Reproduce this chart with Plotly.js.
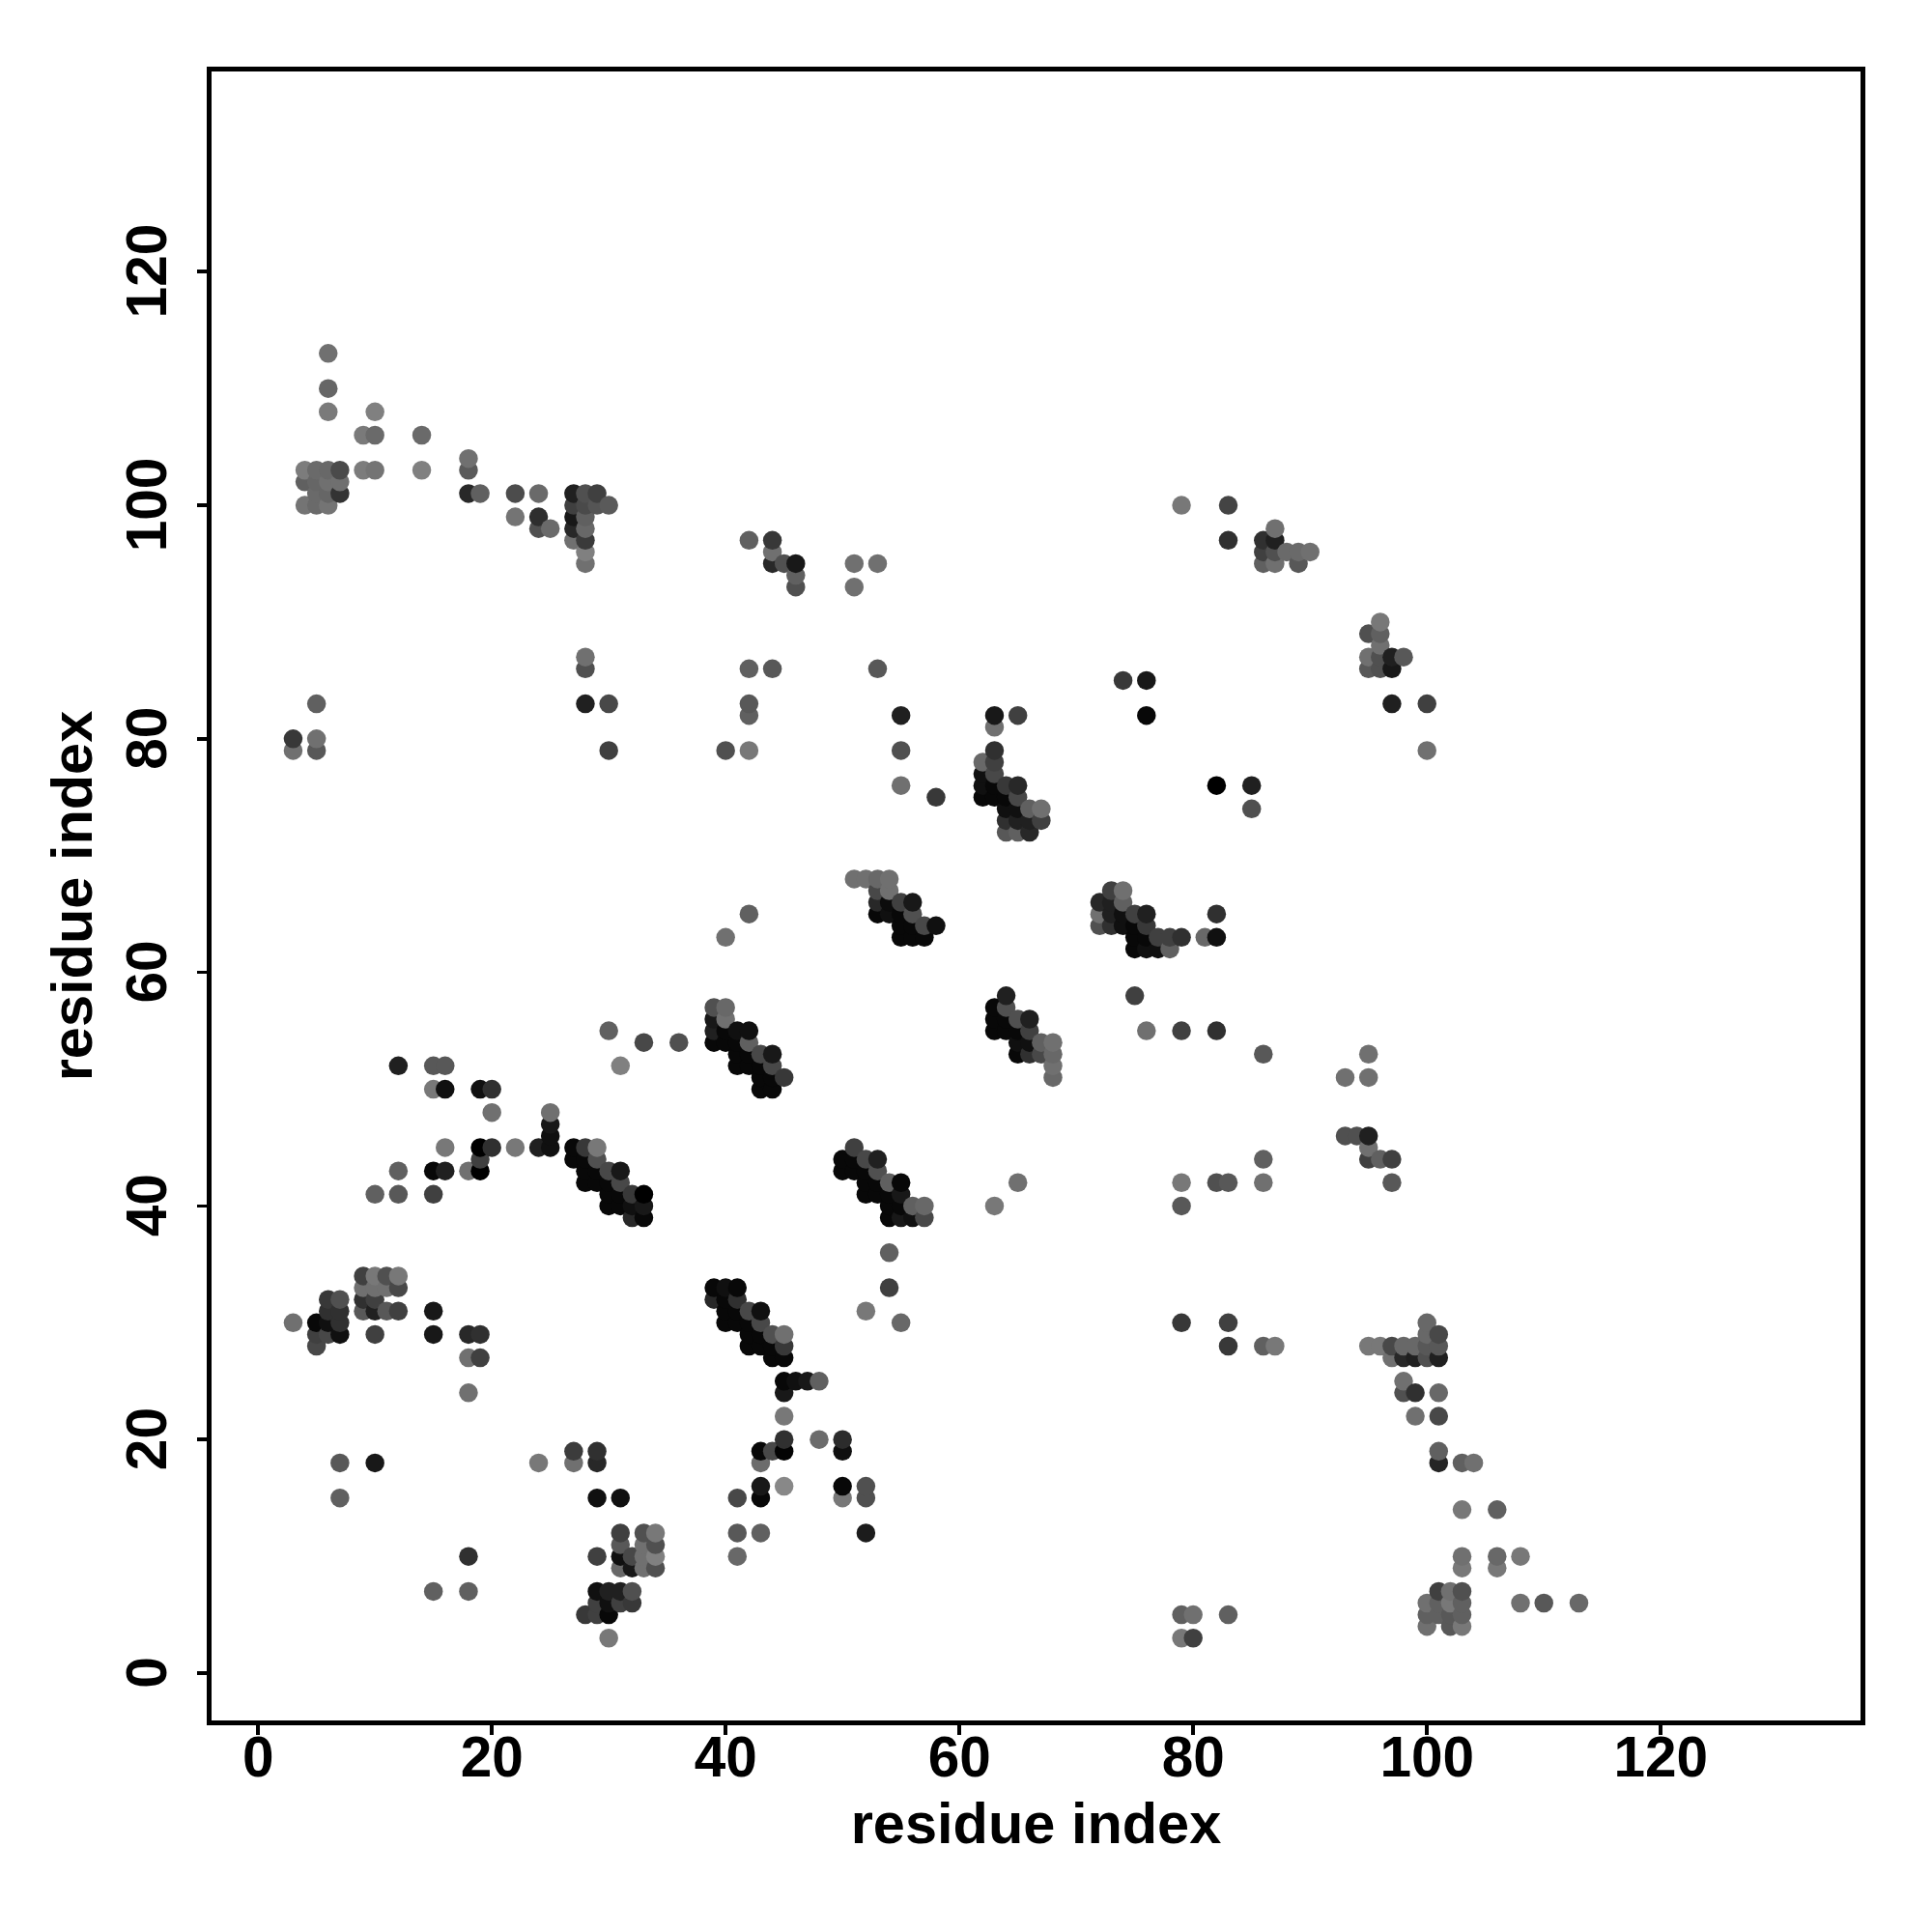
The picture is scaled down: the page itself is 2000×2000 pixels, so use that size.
<!DOCTYPE html>
<html><head><meta charset="utf-8">
<script src="https://cdn.plot.ly/plotly-3.0.1.min.js"></script>
<style>html,body{margin:0;padding:0;background:#fff}</style></head>
<body><div id="chart" style="width:2000px;height:2000px"></div>
<script>
// each entry: [residue x, residue y, grey level 0-255]
const topLeft = [[6,113,112],[6,110,102],[6,108,122],[10,108,128],[9,106,122],[10,106,106],[14,106,106],
[4,103,124],[5,103,106],[6,103,104],[7,103,74],[9,103,124],[10,103,116],[14,103,128],[4,102,96],[5,102,102],[6,102,112],[7,102,112],
[5,101,106],[6,101,102],[7,101,51],[4,100,116],[5,100,106],[6,100,116],[18,104,112],[18,103,90],[18,101,40],[19,101,96],
[22,101,76],[24,101,106],[22,99,116],[24,99,46],[24,98,80],[25,98,106],
[27,101,32],[27,100,64],[27,99,24],[27,98,40],[27,97,112],[28,101,80],[28,100,74],[28,99,96],[28,98,104],[28,97,58],[28,96,128],[28,95,112],
[29,101,64],[29,100,85],[30,100,90]];
const topRight = [[79,100,120],[83,100,68],[83,97,48],[87,98,112],[86,97,48],[87,97,32],[86,96,64],[87,96,80],[88,96,106],[89,96,106],[90,96,112],[86,95,96],[87,95,112],[89,95,88],
[42,97,96],[44,97,56],[44,96,112],[44,95,40],[45,95,80],[46,95,24],[46,94,96],[46,93,80],[51,95,112],[53,95,112],[51,93,112],
[96,90,120],[95,89,80],[96,89,96],[96,88,112],[95,87,112],[96,87,80],[97,87,32],[98,87,88],[95,86,88],[96,86,80],[97,86,24],[97,83,32],[100,83,64],[100,79,112]];
const midUpper = [[28,87,112],[28,86,80],[28,83,32],[30,83,72],[30,79,64],[42,86,96],[44,86,88],[42,83,88],[42,82,96],[40,79,80],[42,79,120],[53,86,88],
[55,82,32],[55,79,80],[55,76,112],[58,75,56],[74,85,56],[76,85,24],[76,82,8],[82,76,0],[85,76,32],[85,74,80],[3,80,56],[3,79,112],[5,83,96],[5,80,112],[5,79,88]];
const cluster62 = [[63,82,24],[63,81,112],[65,82,64],[63,79,48],[63,78,64],[62,78,104],[63,77,72],[62,77,16],[62,76,16],[62,75,8],[63,76,8],[63,75,8],[64,75,8],[64,76,56],[65,76,40],[65,75,72],
[64,74,16],[65,74,16],[66,74,96],[67,74,112],[64,73,48],[65,73,32],[66,73,32],[67,73,64],[64,72,88],[65,72,96],[66,72,40]];
const cluster73 = [[73,67,64],[74,67,112],[72,66,40],[73,66,32],[74,66,96],[72,65,112],[73,65,32],[74,65,16],[72,64,80],[73,64,48],[74,64,16],[75,65,64],[76,65,32],[75,64,8],[76,64,56],
[75,63,8],[76,63,8],[77,63,64],[78,63,64],[79,63,48],[75,62,8],[76,62,16],[77,62,16],[78,62,96],[81,63,104],[82,63,16],[82,65,48]];
const cluster51 = [[51,68,112],[52,68,112],[53,68,104],[54,68,112],[53,67,72],[54,67,112],[53,66,40],[54,66,12],[55,66,64],[56,66,24],[53,65,8],[54,65,16],[55,65,8],[56,65,80],[55,64,8],[56,64,8],[57,64,72],[58,64,16],[55,63,8],[56,63,8],[57,63,8],
[40,63,112],[42,65,96],[75,58,64],[76,55,112],[79,55,64],[82,55,48],[86,53,88],[93,51,112],[95,53,112],[95,51,112]];
const cluster63 = [[64,58,32],[63,57,8],[64,57,80],[63,56,8],[64,56,8],[65,56,80],[66,56,32],[63,55,8],[64,55,8],[65,55,8],[66,55,64],[65,54,16],[66,54,16],[67,54,96],[68,54,112],[65,53,8],[66,53,48],[67,53,72],[68,53,104],[68,52,112],[68,51,104]];
const cluster39 = [[39,57,80],[40,57,104],[39,56,24],[40,56,112],[39,55,32],[40,55,8],[41,55,16],[42,55,16],[39,54,8],[40,54,8],[41,54,8],[42,54,96],[41,53,8],[42,53,8],[43,53,72],[44,53,24],[41,52,8],[42,52,8],[43,52,8],[44,52,72],[43,51,8],[44,51,8],[45,51,56],[43,50,8],[44,50,8],
[30,55,96],[33,54,72],[36,54,80],[31,52,128]];
const cluster50 = [[51,45,64],[50,44,8],[51,44,8],[52,44,72],[53,44,32],[50,43,8],[51,43,8],[52,43,8],[53,43,80],[52,42,8],[53,42,8],[54,42,96],[55,42,8],[52,41,8],[53,41,8],[54,41,8],[55,41,24],[54,40,8],[55,40,8],[56,40,96],[57,40,104],[54,39,8],[55,39,24],[56,39,16],[57,39,72],
[54,36,96],[54,33,64],[52,31,120],[55,30,104],[63,40,120],[65,42,112]];
const cluster39low = [[39,33,8],[40,33,16],[41,33,8],[39,32,40],[40,32,8],[41,32,48],[40,31,8],[41,31,8],[42,31,72],[43,31,16],[40,30,8],[41,30,8],[42,30,8],[43,30,72],[42,29,8],[43,29,8],[44,29,80],[45,29,112],[42,28,8],[43,28,8],[44,28,8],[45,28,56],[44,27,8],[45,27,8],
[45,25,8],[46,25,16],[47,25,24],[48,25,96],[45,24,24],[45,22,120],[45,20,48],[48,20,108],[50,20,44],[50,19,16],[45,19,4],[44,19,72],[43,19,8],[43,18,108]];
const bottomLeft = [[24,18,120],[27,19,60],[27,18,112],[29,19,48],[29,18,40],[29,15,16],[31,15,16],[31,12,64],[33,12,80],[34,12,120],[31,11,88],[33,11,112],[34,11,80],[29,10,64],[31,10,16],[32,10,72],[33,10,112],[34,10,128],[31,9,104],[32,9,24],[33,9,112],[34,9,80],
[29,7,16],[30,7,32],[31,7,32],[32,7,80],[29,6,64],[30,6,16],[31,6,64],[32,6,56],[28,5,56],[29,5,64],[30,5,8],[30,3,120]];
const bottomMid = [[43,16,24],[43,15,8],[41,15,72],[45,16,136],[50,16,8],[52,16,80],[50,15,120],[52,15,80],[41,12,88],[43,12,96],[52,12,28],[41,10,104]];
const cluster12 = [[12,52,32],[15,52,88],[16,52,88],[15,50,120],[16,50,16],[19,50,16],[20,50,48],[20,48,112],[25,48,112],[25,47,24],[25,46,16],[24,45,32],[25,45,16],[22,45,120],[16,45,120],[19,45,0],[20,45,48],[19,44,64],[15,43,8],[16,43,32],[18,43,112],[19,43,0],[12,43,96],[10,41,96],[12,41,88],[15,41,64]];
const cluster27 = [[27,45,8],[28,45,56],[29,45,120],[27,44,8],[28,44,8],[29,44,80],[28,43,8],[29,43,8],[30,43,72],[31,43,24],[28,42,8],[29,42,8],[30,42,8],[31,42,72],[30,41,8],[31,41,8],[32,41,56],[33,41,0],[30,40,8],[31,40,8],[32,40,16],[33,40,24],[32,39,40],[33,39,8]];
const cluster5 = [[9,34,64],[10,34,120],[11,34,80],[12,34,120],[9,33,112],[10,33,112],[11,33,112],[12,33,72],[9,32,48],[10,32,64],[9,31,88],[10,31,32],[11,31,88],[12,31,64],
[6,32,56],[7,32,80],[6,31,48],[7,31,48],[5,30,8],[6,30,16],[7,30,48],[3,30,112],[5,29,64],[6,29,72],[7,29,16],[10,29,64],[5,28,72],
[15,31,24],[15,29,24],[18,29,40],[19,29,48],[18,27,112],[19,27,64],[18,24,112],[7,18,88],[10,18,24],[7,15,96],[18,10,48],[15,7,96],[18,7,96]];
const rightMid = [[79,42,120],[79,40,88],[82,42,80],[83,42,88],[86,44,96],[86,42,112],[93,46,80],[94,46,80],[95,46,32],[95,45,112],[95,44,64],[96,44,96],[97,44,64],[97,42,88],
[79,30,56],[83,30,64],[83,28,56],[86,28,96],[87,28,120],[79,5,96],[80,5,112],[79,3,120],[80,3,64],[83,5,96]];
const rightLow = [[100,30,104],[100,29,104],[101,29,72],[100,28,88],[101,28,88],[95,28,120],[96,28,120],[97,28,72],[98,28,104],[99,28,104],[97,27,112],[98,27,40],[99,27,32],[100,27,80],[101,27,32],
[98,25,112],[98,24,80],[99,24,48],[101,24,104],[99,22,112],[101,22,72],[101,19,96],[101,18,37],[103,18,96],[104,18,112],[103,14,120],[106,14,96],
[103,10,112],[106,10,104],[108,10,120],[103,9,120],[106,9,120],[101,7,64],[102,7,112],[103,7,80],[100,6,112],[101,6,96],[102,6,120],[103,6,96],[100,5,96],[101,5,96],[102,5,88],[103,5,96],[100,4,112],[102,4,88],[103,4,120],
[108,6,112],[110,6,88],[113,6,104]];
const tickValues = [0,20,40,60,80,100,120];
const axisLabel = "residue index";

const pts = [].concat(topLeft,topRight,midUpper,cluster62,cluster73,cluster51,cluster63,cluster39,cluster50,cluster39low,bottomLeft,bottomMid,cluster12,cluster27,cluster5,rightMid,rightLow)
  .sort((a,b)=>a[0]-b[0]||a[1]-b[1]);
const tickFont = {family:'"Liberation Sans",Arial,sans-serif',size:58.5,color:'#000'};
const titleFont = {family:'"Liberation Sans",Arial,sans-serif',size:59.5,color:'#000'};
const axis = {tickmode:'array',tickvals:tickValues,tickfont:tickFont,ticks:'outside',ticklen:10,tickwidth:3.5,tickcolor:'#000',
  showline:true,linewidth:5,linecolor:'#000',mirror:true,showgrid:false,zeroline:false,automargin:false};
Plotly.newPlot('chart',[{type:'scatter',mode:'markers',x:pts.map(p=>p[0]),y:pts.map(p=>p[1]),
  marker:{size:19.5,color:pts.map(p=>`rgb(${p[2]},${p[2]},${p[2]})`),line:{width:0}},hoverinfo:'skip'}],
 {width:2000,height:2000,showlegend:false,paper_bgcolor:'#fff',plot_bgcolor:'#fff',
  margin:{l:219,r:74,t:74,b:219,pad:0},
  xaxis:Object.assign({},axis,{range:[-3.98,137.09],ticktext:tickValues.map(v=>'<b>'+v+'</b>'),ticklabelstandoff:-27,title:{text:'<b>'+axisLabel+'</b>',font:titleFont,standoff:18}}),
  yaxis:Object.assign({},axis,{range:[-4.05,137.14],tickangle:-90,ticktext:tickValues.map(v=>'<b>'+v+'</b>&#160;'),ticklabelstandoff:9,title:{text:'<b>'+axisLabel+'</b>',font:titleFont,standoff:5}})
 },{displayModeBar:false,staticPlot:true});
</script></body></html>
